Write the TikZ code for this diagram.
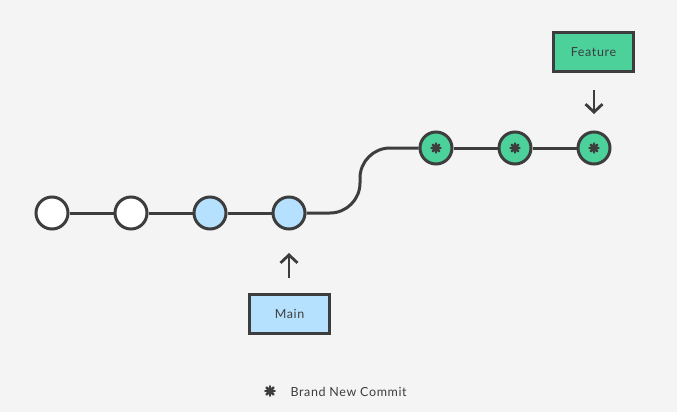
\documentclass[tikz,border=0pt]{standalone}
\usepackage{fontspec}
\setmainfont{Lato}[LetterSpace=5]
\usetikzlibrary{arrows.meta}
\definecolor{bg}{HTML}{F4F4F4}
\definecolor{ink}{HTML}{3D3D3D}
\definecolor{newc}{HTML}{4CD19B}
\definecolor{oldc}{HTML}{B5E1FF}
\tikzset{
  commit/.style={circle,draw=ink,line width=3pt,minimum size=32pt,inner sep=0pt},
  branchbox/.style={draw=ink,line width=3pt,minimum width=80pt,minimum height=39pt,inner sep=0pt,font=\fontsize{12.5}{14}\selectfont,text=ink},
  edge/.style={draw=ink,line width=3pt},
  pointer/.style={draw=ink,line width=2.8pt,-{Straight Barb[length=8pt,width=17pt,line width=2.8pt]}},
}
\newcommand{\starmark}[2]{%
  \fill[ink] (#1) circle (#2*0.62);
  \foreach \a in {0,45,...,315}{\draw[ink,line width=2.5pt,line cap=round] (#1) -- ++(\a:#2);}
}
\begin{document}
\begin{tikzpicture}[x=1pt,y=-1pt]
\fill[bg] (0,0) rectangle (677,412);
\useasboundingbox (0,0) rectangle (677,412);
% commits
\node[commit,fill=white] (c1) at (52,213) {};
\node[commit,fill=white] (c2) at (131,213) {};
\node[commit,fill=oldc] (c3) at (210,213) {};
\node[commit,fill=oldc] (c4) at (289,213) {};
\node[commit,fill=newc] (f1) at (436,148) {};
\node[commit,fill=newc] (f2) at (515,148) {};
\node[commit,fill=newc] (f3) at (594,148) {};
\coordinate (k1) at (330,213);
\coordinate (k2) at (390,148);
\draw[edge] (c1) -- (c2);
\draw[edge] (c2) -- (c3);
\draw[edge] (c3) -- (c4);
\draw[edge] (c4) -- (k1) .. controls (346.5,213) and (360,199.5) .. (360,183) -- (360,178) .. controls (360,161.5) and (373.5,148) .. (k2) -- (f1);
\draw[edge] (f1) -- (f2);
\draw[edge] (f2) -- (f3);
\foreach \n in {f1,f2,f3}{\coordinate (s\n) at (\n.center); \starmark{s\n}{4.6}}
% branch labels
\node[branchbox,fill=newc] (feat) at (593.5,52) {Feature};
\node[branchbox,fill=oldc] (main) at (289.5,314) {Main};
\coordinate (fa1) at (594,90);
\coordinate (fa2) at (594,114);
\coordinate (ma1) at (289,278);
\coordinate (ma2) at (289,253);
\draw[pointer] (fa1) -- (fa2);
\draw[pointer] (ma1) -- (ma2);
% legend
\coordinate (lg) at (270,391);
\starmark{lg}{4.8}
\node[anchor=west,font=\fontsize{12.5}{14}\selectfont,text=ink] (legend) at (287,391.5) {Brand New Commit};
\end{tikzpicture}
\end{document}
